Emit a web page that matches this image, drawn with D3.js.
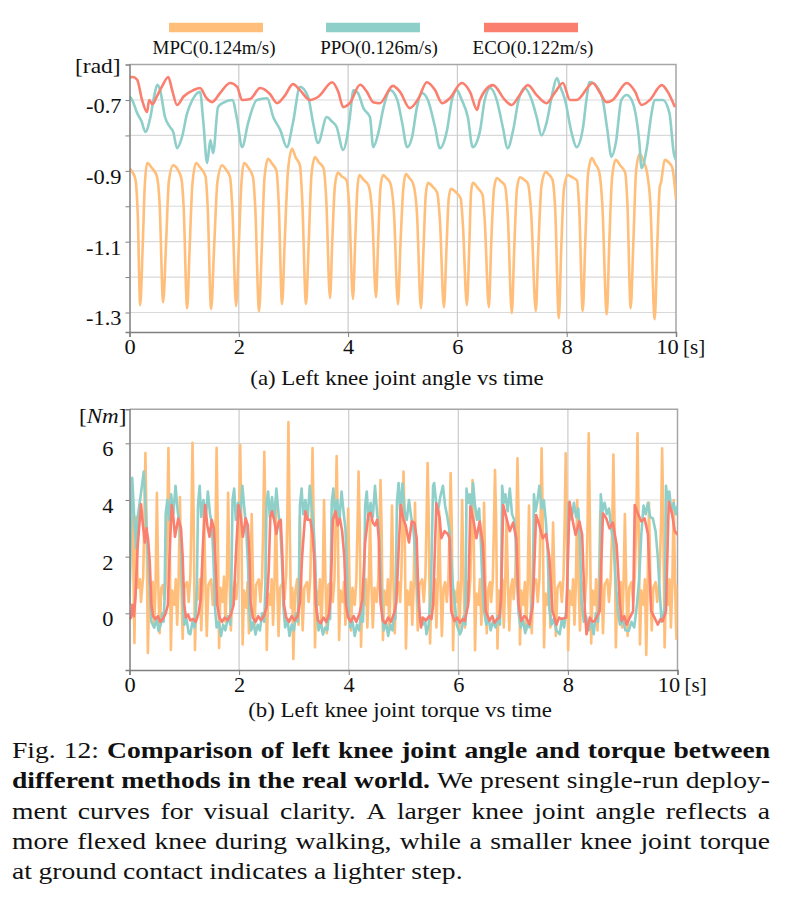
<!DOCTYPE html>
<html>
<head>
<meta charset="utf-8">
<script src="https://cdn.jsdelivr.net/npm/d3@7"></script>
<style>
  body { margin: 0; background: #fff; }
  svg text { font-family: "Liberation Serif", "Times New Roman", serif; fill: #111; }
</style>
</head>
<body>
<div id="fig"></div>
<script>
// ---- data ----
const seriesNames = ['MPC(0.124m/s)', 'PPO(0.126m/s)', 'ECO(0.122m/s)'];
const seriesColors = ['#FFBE7A', '#8ECFC9', '#FA7F6F'];

const timeTicks = [0, 2, 4, 6, 8, 10];
const angleTicks = [-1.3, -1.2, -1.1, -1.0, -0.9, -0.8, -0.7];
const angleLabels = [-1.3, -1.1, -0.9, -0.7];
const torqueTicks = [0, 2, 4, 6];

// left knee joint angle [rad]
const mpcAngle = [
  [0.00, -0.893], [0.06, -0.905], [0.11, -0.925], [0.15, -1.02], [0.196, -1.279], [0.24, -1.12], [0.28, -0.94],
  [0.324, -0.878], [0.41, -0.892], [0.50, -0.915], [0.55, -0.99], [0.616, -1.271], [0.67, -1.10], [0.72, -0.93],
  [0.799, -0.884], [0.87, -0.893], [0.95, -0.922], [0.99, -1.00], [1.055, -1.288], [1.10, -1.12], [1.15, -0.94],
  [1.219, -0.878], [1.29, -0.89], [1.39, -0.915], [1.43, -1.00], [1.494, -1.290], [1.55, -1.11], [1.61, -0.93],
  [1.695, -0.884], [1.76, -0.895], [1.84, -0.918], [1.88, -1.00], [1.951, -1.282], [2.00, -1.11], [2.05, -0.93],
  [2.097, -0.878], [2.17, -0.89], [2.26, -0.918], [2.30, -1.00], [2.371, -1.296], [2.42, -1.12], [2.47, -0.92],
  [2.536, -0.866], [2.61, -0.88], [2.69, -0.90], [2.73, -0.99], [2.792, -1.276], [2.84, -1.10], [2.90, -0.90],
  [2.974, -0.838], [3.04, -0.862], [3.12, -0.885], [3.16, -0.98], [3.230, -1.276], [3.28, -1.10], [3.33, -0.91],
  [3.395, -0.861], [3.46, -0.875], [3.55, -0.892], [3.60, -0.98], [3.669, -1.259], [3.71, -1.10], [3.76, -0.94],
  [3.815, -0.905], [3.88, -0.915], [3.97, -0.926], [4.02, -1.00], [4.089, -1.262], [4.13, -1.10], [4.17, -0.95],
  [4.205, -0.912], [4.28, -0.925], [4.37, -0.94], [4.44, -1.02], [4.510, -1.257], [4.55, -1.10], [4.59, -0.95],
  [4.638, -0.912], [4.70, -0.92], [4.77, -0.934], [4.84, -1.02], [4.912, -1.277], [4.96, -1.10], [5.01, -0.95],
  [5.058, -0.909], [5.12, -0.92], [5.19, -0.936], [5.26, -1.02], [5.333, -1.288], [5.38, -1.12], [5.42, -0.97],
  [5.461, -0.934], [5.55, -0.945], [5.63, -0.962], [5.68, -1.04], [5.753, -1.285], [5.80, -1.12], [5.84, -0.98],
  [5.881, -0.951], [5.99, -0.963], [6.06, -0.978], [6.10, -1.05], [6.173, -1.279], [6.22, -1.10], [6.25, -0.96],
  [6.283, -0.934], [6.38, -0.95], [6.46, -0.968], [6.50, -1.04], [6.576, -1.285], [6.62, -1.10], [6.67, -0.95],
  [6.722, -0.92], [6.80, -0.93], [6.87, -0.942], [6.92, -1.02], [6.996, -1.302], [7.04, -1.12], [7.09, -0.95],
  [7.143, -0.918], [7.22, -0.925], [7.29, -0.936], [7.35, -1.02], [7.435, -1.296], [7.48, -1.12], [7.54, -0.94],
  [7.618, -0.903], [7.67, -0.91], [7.74, -0.925], [7.79, -1.01], [7.856, -1.316], [7.90, -1.12], [7.95, -0.95],
  [8.020, -0.912], [8.10, -0.918], [8.19, -0.928], [8.23, -1.01], [8.294, -1.296], [8.34, -1.10], [8.39, -0.91],
  [8.459, -0.864], [8.52, -0.88], [8.59, -0.90], [8.65, -0.99], [8.733, -1.305], [8.78, -1.10], [8.83, -0.92],
  [8.897, -0.869], [8.98, -0.885], [9.07, -0.905], [9.11, -0.99], [9.171, -1.288], [9.22, -1.10], [9.27, -0.90],
  [9.336, -0.852], [9.40, -0.87], [9.47, -0.905], [9.53, -0.99], [9.610, -1.319], [9.66, -1.10], [9.70, -0.95],
  [9.73, -0.93], [9.793, -0.869], [9.86, -0.875], [9.93, -0.89], [10.0, -0.98],
];

const ppoAngle = [
  [0.00, -0.69], [0.05, -0.70], [0.14, -0.737], [0.22, -0.76], [0.29, -0.79], [0.38, -0.75], [0.45, -0.69],
  [0.51, -0.657], [0.56, -0.672], [0.65, -0.748], [0.74, -0.776], [0.80, -0.79], [0.87, -0.836], [0.96, -0.805],
  [1.05, -0.74], [1.15, -0.70], [1.29, -0.677], [1.35, -0.76], [1.42, -0.878], [1.48, -0.813], [1.53, -0.85],
  [1.62, -0.72], [1.71, -0.708], [1.88, -0.70], [1.97, -0.756], [2.06, -0.833], [2.17, -0.765], [2.33, -0.70],
  [2.52, -0.695], [2.63, -0.748], [2.76, -0.785], [2.88, -0.833], [2.99, -0.765], [3.12, -0.663], [3.27, -0.692],
  [3.36, -0.765], [3.45, -0.821], [3.61, -0.748], [3.70, -0.76], [3.79, -0.776], [3.91, -0.841], [3.98, -0.805],
  [4.03, -0.75], [4.10, -0.672], [4.18, -0.68], [4.28, -0.723], [4.40, -0.748], [4.46, -0.833], [4.55, -0.795],
  [4.65, -0.72], [4.77, -0.672], [4.90, -0.70], [4.99, -0.765], [5.08, -0.833], [5.17, -0.805], [5.26, -0.72],
  [5.35, -0.68], [5.46, -0.70], [5.59, -0.776], [5.68, -0.836], [5.81, -0.785], [5.90, -0.70], [5.99, -0.672],
  [6.08, -0.70], [6.19, -0.748], [6.28, -0.833], [6.41, -0.79], [6.50, -0.70], [6.60, -0.666], [6.72, -0.70],
  [6.83, -0.776], [6.92, -0.836], [7.02, -0.785], [7.12, -0.70], [7.23, -0.666], [7.36, -0.70], [7.45, -0.748],
  [7.54, -0.80], [7.63, -0.765], [7.74, -0.68], [7.82, -0.638], [7.88, -0.662], [7.97, -0.70], [8.09, -0.793],
  [8.18, -0.833], [8.30, -0.776], [8.36, -0.70], [8.42, -0.649], [8.55, -0.662], [8.66, -0.70], [8.74, -0.78],
  [8.82, -0.86], [8.90, -0.82], [9.00, -0.70], [9.10, -0.686], [9.21, -0.708], [9.33, -0.821], [9.37, -0.892],
  [9.46, -0.841], [9.55, -0.74], [9.61, -0.70], [9.76, -0.70], [9.88, -0.737], [9.96, -0.85], [10.0, -0.87],
];

const ecoAngle = [
  [0.00, -0.636], [0.06, -0.635], [0.14, -0.643], [0.23, -0.70], [0.32, -0.734], [0.36, -0.70], [0.42, -0.712],
  [0.50, -0.69], [0.60, -0.66], [0.71, -0.635], [0.78, -0.672], [0.87, -0.714], [0.99, -0.69], [1.17, -0.672],
  [1.29, -0.666], [1.41, -0.695], [1.51, -0.706], [1.66, -0.68], [1.84, -0.652], [1.97, -0.663], [2.06, -0.70],
  [2.21, -0.697], [2.39, -0.666], [2.57, -0.683], [2.70, -0.709], [2.85, -0.686], [2.99, -0.655], [3.12, -0.672],
  [3.30, -0.70], [3.46, -0.69], [3.71, -0.65], [3.82, -0.677], [3.91, -0.72], [4.03, -0.709], [4.22, -0.657],
  [4.34, -0.676], [4.46, -0.706], [4.58, -0.709], [4.82, -0.66], [4.95, -0.677], [5.13, -0.723], [5.29, -0.695],
  [5.44, -0.65], [5.59, -0.672], [5.72, -0.709], [5.86, -0.695], [6.08, -0.652], [6.23, -0.677], [6.36, -0.728],
  [6.41, -0.70], [6.65, -0.658], [6.87, -0.70], [6.99, -0.714], [7.14, -0.686], [7.29, -0.658], [7.45, -0.686],
  [7.63, -0.709], [7.78, -0.68], [7.93, -0.652], [8.06, -0.70], [8.18, -0.70], [8.48, -0.652], [8.60, -0.677],
  [8.73, -0.706], [8.84, -0.70], [9.10, -0.652], [9.25, -0.676], [9.37, -0.714], [9.52, -0.70], [9.74, -0.658],
  [9.85, -0.677], [9.98, -0.72],
];

// left knee joint torque [Nm]
const mpcTorque = [
  [0.00, 0.6], [0.03, 3.5], [0.06, 3.2], [0.09, -1.05], [0.12, 3.4], [0.15, 0.9], [0.19, 1.2], [0.21, 0.4], [0.25, 1.3], [0.27, 3.2],
  [0.29, 5.66], [0.31, 3.4], [0.335, -1.40], [0.36, 0.8], [0.40, 0.4], [0.425, 1.1], [0.45, -0.5], [0.475, 0.9], [0.50, 4.25], [0.525, 1.0], [0.55, -0.7], [0.58, 0.9], [0.61, 1.0], [0.64, 0.5], [0.67, 1.3], [0.69, 3.2],
  [0.71, 5.83], [0.73, 3.3], [0.755, -1.29], [0.78, 0.8], [0.82, 0.3], [0.845, 1.2], [0.87, -0.4], [0.895, 1.0], [0.92, 4.1], [0.945, 1.2], [0.97, -0.9], [1.00, 0.9], [1.05, 1.1], [1.08, 0.4], [1.11, 1.3], [1.13, 3.3],
  [1.15, 6.02], [1.17, 3.5], [1.195, -1.29], [1.22, 0.7], [1.26, 0.5], [1.285, 1.2], [1.31, -0.6], [1.335, 0.8], [1.36, 3.6], [1.385, 1.1], [1.41, -0.8], [1.44, 1.0], [1.49, 1.2], [1.52, 0.3], [1.55, 1.2], [1.57, 3.0],
  [1.59, 5.84], [1.61, 3.2], [1.635, -1.22], [1.66, 0.9], [1.70, 0.4], [1.725, 1.3], [1.75, -0.3], [1.775, 1.0], [1.80, 4.25], [1.825, 1.3], [1.85, -0.6], [1.88, 0.8], [1.92, 1.1], [1.95, 0.5], [1.98, 1.2], [2.00, 3.3],
  [2.02, 5.94], [2.04, 3.4], [2.065, -1.1], [2.09, 0.8], [2.13, 0.2], [2.155, 1.1], [2.18, -0.7], [2.205, 0.9], [2.23, 3.5], [2.255, 1.0], [2.28, -0.5], [2.31, 1.0], [2.36, 1.2], [2.39, 0.4], [2.42, 1.3], [2.44, 3.1],
  [2.46, 5.70], [2.48, 3.3], [2.505, -1.29], [2.53, 0.7], [2.57, 0.3], [2.595, 1.2], [2.62, -0.4], [2.645, 1.0], [2.67, 3.9], [2.695, 1.1], [2.72, -0.8], [2.75, 0.9], [2.80, 1.1], [2.83, 0.5], [2.86, 1.4], [2.88, 3.4],
  [2.90, 6.75], [2.92, 3.6], [2.945, 0.2], [2.97, 0.9], [2.99, -1.61], [3.02, 0.7], [3.06, 1.2], [3.085, -0.4], [3.11, 3.4], [3.135, 1.0], [3.16, -0.6], [3.19, 0.9], [3.24, 1.1], [3.27, 0.4], [3.30, 1.3], [3.32, 3.2],
  [3.34, 5.83], [3.36, 3.4], [3.385, -1.2], [3.41, 0.8], [3.45, 0.3], [3.475, 1.2], [3.50, -0.5], [3.525, 0.9], [3.55, 4.0], [3.575, 1.2], [3.60, -0.7], [3.63, 1.0], [3.68, 1.1], [3.71, 0.4], [3.74, 1.2], [3.76, 3.1],
  [3.78, 5.55], [3.80, 3.3], [3.825, -0.94], [3.85, 0.8], [3.89, 0.4], [3.915, 1.1], [3.94, -0.4], [3.965, 1.0], [3.99, 3.7], [4.015, 1.1], [4.04, -0.6], [4.07, 0.9], [4.11, 0.3], [4.14, 1.2], [4.16, 3.0],
  [4.18, 5.00], [4.20, 3.2], [4.225, -1.18], [4.25, 0.7], [4.29, 0.3], [4.315, 1.2], [4.34, -0.5], [4.365, 0.9], [4.39, 3.3], [4.415, 1.0], [4.44, -0.5], [4.47, 0.9], [4.51, 0.4], [4.54, 1.2], [4.56, 3.0],
  [4.58, 4.70], [4.60, 3.1], [4.625, -0.94], [4.65, 0.8], [4.69, 0.3], [4.715, 1.2], [4.74, -0.6], [4.765, 1.0], [4.79, 3.8], [4.815, 1.2], [4.84, -0.7], [4.87, 0.9], [4.91, 1.1], [4.94, 0.4], [4.96, 1.3], [4.98, 3.0],
  [5.00, 5.00], [5.02, 3.3], [5.045, -1.24], [5.07, 0.8], [5.11, 0.3], [5.135, 1.1], [5.16, -0.4], [5.185, 0.9], [5.21, 3.9], [5.235, 1.1], [5.26, -0.6], [5.29, 1.0], [5.34, 1.2], [5.37, 0.4], [5.40, 1.3], [5.42, 3.2],
  [5.44, 5.30], [5.46, 3.4], [5.485, -1.06], [5.51, 0.7], [5.55, 0.3], [5.575, 1.2], [5.60, -0.5], [5.625, 1.0], [5.65, 3.6], [5.675, 1.0], [5.70, -0.8], [5.73, 0.9], [5.76, 1.1], [5.79, 0.4], [5.82, 1.2], [5.84, 3.0],
  [5.86, 4.95], [5.88, 3.2], [5.905, -1.3], [5.93, 0.8], [5.97, 0.4], [5.995, 1.1], [6.02, -0.6], [6.045, 0.9], [6.07, 4.0], [6.095, 1.2], [6.12, -0.5], [6.15, 1.0], [6.17, 1.1], [6.19, 0.4], [6.22, 1.2], [6.24, 3.0],
  [6.26, 4.70], [6.28, 3.1], [6.305, -1.3], [6.33, 0.7], [6.37, 0.3], [6.395, 1.2], [6.42, -0.4], [6.445, 0.9], [6.47, 3.9], [6.495, 1.0], [6.52, -0.7], [6.55, 0.9], [6.58, 1.1], [6.60, 0.4], [6.63, 1.2], [6.65, 3.1],
  [6.67, 5.06], [6.69, 3.3], [6.715, -1.24], [6.74, 0.8], [6.78, 0.3], [6.805, 1.2], [6.83, -0.5], [6.855, 1.0], [6.88, 3.3], [6.905, 1.1], [6.93, -0.6], [6.96, 0.9], [6.99, 1.2], [7.01, 0.5], [7.04, 1.3], [7.06, 3.2],
  [7.08, 5.47], [7.10, 3.4], [7.125, -1.1], [7.15, 0.8], [7.19, 0.3], [7.215, 1.1], [7.24, -0.6], [7.265, 0.9], [7.29, 3.8], [7.315, 1.1], [7.34, -0.7], [7.37, 1.0], [7.42, 1.2], [7.45, 0.4], [7.48, 1.2], [7.50, 3.2],
  [7.52, 5.82], [7.54, 3.5], [7.565, -1.2], [7.59, 0.7], [7.63, 0.3], [7.655, 1.2], [7.68, -0.5], [7.705, 1.0], [7.73, 3.2], [7.755, 1.0], [7.78, -0.8], [7.81, 0.9], [7.86, 1.1], [7.89, 0.4], [7.92, 1.3], [7.94, 3.1],
  [7.96, 5.65], [7.98, 3.3], [8.005, -1.3], [8.03, 0.8], [8.07, 0.3], [8.095, 1.2], [8.12, -0.4], [8.145, 1.0], [8.17, 4.0], [8.195, 1.1], [8.22, -0.6], [8.25, 0.9], [8.28, 1.1], [8.31, 0.4], [8.34, 1.3], [8.36, 3.3],
  [8.38, 6.35], [8.40, 3.5], [8.425, -1.06], [8.45, 0.8], [8.49, 0.3], [8.515, 1.2], [8.54, -0.6], [8.565, 0.9], [8.59, 3.6], [8.615, 1.1], [8.64, -0.7], [8.67, 1.0], [8.72, 1.2], [8.75, 0.4], [8.78, 1.2], [8.81, 3.2],
  [8.83, 5.60], [8.85, 3.3], [8.875, -1.2], [8.90, 0.7], [8.94, 0.3], [8.965, 1.1], [8.99, -0.5], [9.015, 1.0], [9.04, 3.5], [9.065, 1.0], [9.09, -0.8], [9.12, 0.9], [9.16, 1.1], [9.19, 0.4], [9.22, 1.3], [9.25, 3.3],
  [9.27, 6.35], [9.29, 3.4], [9.315, -1.1], [9.34, 0.8], [9.38, 0.3], [9.405, 1.2], [9.43, -1.47], [9.455, 1.0], [9.48, 3.9], [9.505, 1.1], [9.53, -0.6], [9.56, 0.9], [9.60, 1.1], [9.63, 0.4], [9.67, 1.2], [9.70, 3.2],
  [9.72, 5.82], [9.74, 3.4], [9.765, -1.2], [9.79, 0.8], [9.83, 0.3], [9.855, 1.2], [9.88, -0.5], [9.905, 1.0], [9.93, 4.0], [9.955, 1.1], [9.98, -0.9], [10.0, 1.0],
];

const ppoTorque = [
  [0.00, 0.3], [0.02, 2.5], [0.05, 4.78], [0.08, 3.6], [0.12, 2.3], [0.15, 3.4], [0.20, 4.1], [0.26, 5.0], [0.29, 3.9], [0.33, 2.2], [0.37, 0.8], [0.40, -0.3], [0.45, -0.5], [0.50, -0.2], [0.53, -0.62], [0.57, -0.4], [0.60, 0.0], [0.62, -0.3],
  [0.64, 0.5], [0.66, 3.5], [0.69, 4.0], [0.72, 3.3], [0.76, 4.2], [0.80, 3.5], [0.84, 4.5], [0.88, 3.6], [0.91, 3.2], [0.94, 2.4], [0.97, 0.4], [1.00, -0.4], [1.04, -0.2], [1.08, -0.7], [1.11, -0.74], [1.15, -0.3], [1.19, -0.5], [1.21, 0.1],
  [1.23, 1.0], [1.25, 3.8], [1.28, 4.5], [1.31, 3.4], [1.35, 4.0], [1.39, 3.3], [1.43, 4.3], [1.47, 3.5], [1.50, 3.2], [1.53, 2.0], [1.56, 0.2], [1.59, -0.5], [1.63, -0.3], [1.67, -0.8], [1.71, -0.4], [1.75, -0.6], [1.80, -0.1], [1.84, -0.4],
  [1.86, 1.2], [1.88, 4.0], [1.91, 4.4], [1.94, 3.3], [1.98, 3.9], [2.02, 3.4], [2.06, 4.5], [2.10, 3.6], [2.13, 3.0], [2.16, 1.8], [2.19, 0.1], [2.22, -0.6], [2.26, -0.3], [2.30, -0.75], [2.34, -0.4], [2.38, -0.6], [2.42, 0.0], [2.46, -0.3],
  [2.48, 1.0], [2.50, 3.9], [2.53, 4.3], [2.56, 3.4], [2.60, 4.1], [2.64, 3.3], [2.68, 4.4], [2.72, 3.5], [2.75, 3.1], [2.78, 1.9], [2.81, 0.2], [2.84, -0.5], [2.88, -0.2], [2.92, -0.8], [2.96, -0.4], [3.00, -0.6], [3.04, 0.0], [3.07, -0.3],
  [3.09, 0.8], [3.11, 3.8], [3.14, 4.4], [3.17, 3.5], [3.21, 4.0], [3.25, 3.3], [3.29, 4.5], [3.33, 3.6], [3.36, 3.0], [3.39, 1.8], [3.42, 0.0], [3.45, -0.6], [3.49, -0.3], [3.53, -0.75], [3.57, -0.5], [3.61, -0.6], [3.64, 0.0], [3.66, -0.2],
  [3.67, 1.0], [3.69, 3.9], [3.72, 4.4], [3.75, 3.4], [3.79, 4.0], [3.83, 3.3], [3.87, 4.3], [3.91, 3.5], [3.94, 3.0], [3.97, 1.5], [4.00, 0.0], [4.03, -0.5], [4.07, -0.3], [4.11, -0.8], [4.15, -0.4], [4.19, -0.6], [4.23, 0.1], [4.26, -0.3],
  [4.28, 0.9], [4.30, 3.8], [4.33, 4.3], [4.36, 3.3], [4.40, 3.9], [4.44, 3.4], [4.48, 4.5], [4.52, 3.5], [4.55, 3.0], [4.58, 1.7], [4.61, 0.1], [4.64, -0.6], [4.68, -0.3], [4.72, -0.8], [4.76, -0.4], [4.80, -0.6], [4.83, 0.0], [4.85, -0.2],
  [4.86, 1.0], [4.88, 3.9], [4.91, 4.6], [4.94, 3.6], [4.98, 4.58], [5.02, 3.6], [5.06, 3.3], [5.10, 4.0], [5.14, 3.4], [5.18, 3.0], [5.22, 2.0], [5.26, 0.4], [5.28, 0.08], [5.31, -0.3], [5.35, -0.4], [5.39, -0.2], [5.42, -0.74], [5.46, -0.4], [5.50, 0.8],
  [5.54, 4.5], [5.56, 4.6], [5.60, 3.8], [5.63, 3.6], [5.67, 4.1], [5.72, 4.5], [5.76, 3.8], [5.80, 3.4], [5.84, 2.9], [5.90, 1.0], [5.94, 0.3], [5.97, -0.4], [6.03, -0.74], [6.06, -0.6], [6.10, -0.1], [6.13, -0.4],
  [6.15, 4.4], [6.18, 3.9], [6.21, 4.2], [6.24, 3.5], [6.27, 4.6], [6.30, 3.9], [6.34, 3.3], [6.38, 3.7], [6.41, 2.6], [6.44, 1.0], [6.47, 0.1], [6.51, -0.4], [6.55, -0.15], [6.59, -0.6], [6.63, -0.3], [6.68, -0.5], [6.72, -0.1], [6.76, -0.4],
  [6.78, 0.8], [6.80, 4.5], [6.83, 3.9], [6.86, 4.2], [6.90, 3.6], [6.94, 4.4], [6.98, 3.5], [7.02, 3.3], [7.05, 2.5], [7.08, 0.8], [7.10, 0.0], [7.14, -0.5], [7.18, -0.2], [7.22, -0.7], [7.26, -0.4], [7.30, -0.5], [7.33, 0.1],
  [7.36, 0.8], [7.38, 4.2], [7.41, 3.6], [7.44, 3.9], [7.48, 4.5], [7.52, 3.7], [7.56, 4.0], [7.60, 3.2], [7.63, 2.2], [7.66, 0.2], [7.70, -0.4], [7.74, -0.2], [7.79, -0.6], [7.85, -0.74], [7.89, -0.2], [7.93, -0.5], [7.97, 0.1],
  [7.99, 0.9], [8.01, 3.9], [8.04, 3.3], [8.08, 3.5], [8.11, 3.9], [8.15, 3.4], [8.19, 3.7], [8.22, 2.5], [8.25, 0.4], [8.29, -0.3], [8.33, -0.1], [8.38, -0.6], [8.43, -0.3], [8.47, -0.74], [8.51, 0.0], [8.55, -0.3],
  [8.58, 0.9], [8.60, 4.2], [8.63, 3.6], [8.67, 3.9], [8.71, 3.5], [8.75, 3.7], [8.79, 3.0], [8.83, 2.6], [8.87, 1.2], [8.91, 0.1], [8.95, -0.4], [9.00, -0.2], [9.05, -0.6], [9.11, -0.62], [9.16, -0.3], [9.21, -0.5], [9.26, 0.3],
  [9.30, 1.2], [9.34, 2.8], [9.38, 3.8], [9.42, 3.5], [9.46, 3.9], [9.50, 3.4], [9.55, 3.35], [9.60, 2.9], [9.64, 2.0], [9.68, 0.6], [9.71, -0.3], [9.74, -0.1], [9.77, 0.3],
  [9.79, 4.5], [9.82, 4.0], [9.85, 4.3], [9.89, 3.6], [9.93, 3.9], [9.97, 3.5], [10.0, 3.8],
];

const ecoTorque = [
  [0.00, -0.20], [0.03, -0.15], [0.05, 0.3], [0.08, -0.1], [0.11, 0.6], [0.15, 2.4], [0.21, 3.85], [0.24, 3.2], [0.28, 2.5], [0.31, 3.0], [0.34, 2.6], [0.37, 1.8], [0.40, 0.3], [0.43, -0.1], [0.47, -0.2], [0.52, -0.1], [0.56, -0.3], [0.61, -0.2], [0.66, 0.0], [0.70, 0.3], [0.73, 2.0],
  [0.77, 3.82], [0.80, 3.4], [0.83, 2.7], [0.89, 3.35], [0.94, 3.0], [0.97, 2.0], [1.00, 0.3], [1.03, -0.15], [1.07, -0.05], [1.11, -0.25], [1.16, -0.2], [1.21, -0.3], [1.26, 0.0], [1.30, 0.5], [1.34, 2.4],
  [1.38, 3.82], [1.42, 3.1], [1.46, 2.7], [1.50, 3.3], [1.54, 3.0], [1.57, 1.8], [1.60, 0.3], [1.64, -0.15], [1.69, -0.3], [1.74, -0.15], [1.79, -0.25], [1.85, -0.05], [1.90, 0.3], [1.94, 2.0],
  [1.99, 3.82], [2.03, 3.4], [2.07, 2.7], [2.12, 3.35], [2.16, 3.1], [2.19, 2.0], [2.21, 0.4], [2.25, -0.15], [2.30, -0.3], [2.35, -0.1], [2.40, -0.25], [2.45, -0.1], [2.50, 0.2], [2.54, 1.5], [2.57, 3.4],
  [2.60, 3.6], [2.64, 3.3], [2.68, 2.8], [2.72, 3.2], [2.76, 3.3], [2.79, 2.0], [2.82, 0.3], [2.86, -0.15], [2.91, -0.3], [2.96, -0.1], [3.01, -0.25], [3.07, -0.1], [3.11, 0.4], [3.15, 2.0],
  [3.21, 3.6], [3.25, 3.3], [3.30, 3.3], [3.34, 2.8], [3.37, 2.0], [3.40, 0.3], [3.44, -0.25], [3.49, -0.35], [3.54, -0.15], [3.59, -0.3], [3.64, -0.05], [3.67, 0.6], [3.71, 3.3],
  [3.76, 3.6], [3.80, 3.1], [3.84, 3.35], [3.88, 2.9], [3.92, 2.0], [3.95, 0.3], [3.99, -0.15], [4.04, -0.3], [4.09, -0.1], [4.14, -0.3], [4.20, 0.0], [4.25, 0.5], [4.30, 2.5], [4.36, 3.5],
  [4.40, 3.55], [4.44, 3.2], [4.48, 3.1], [4.52, 3.3], [4.55, 2.6], [4.58, 0.4], [4.62, -0.25], [4.67, -0.35], [4.72, -0.15], [4.77, -0.3], [4.83, 0.0], [4.87, 0.4], [4.91, 2.2],
  [4.95, 3.82], [5.00, 3.3], [5.04, 3.1], [5.10, 2.5], [5.15, 3.24], [5.20, 3.2], [5.24, 2.65], [5.27, 0.8], [5.30, -0.15], [5.32, -0.5], [5.35, -0.15], [5.41, -0.25], [5.47, -0.1], [5.51, -0.2], [5.54, 0.3],
  [5.60, 3.88], [5.66, 3.35], [5.69, 2.65], [5.75, 2.9], [5.81, 2.8], [5.84, 2.65], [5.87, 0.08], [5.93, -0.27], [5.98, -0.15], [6.03, -0.33], [6.08, -0.2], [6.12, -0.27], [6.18, 0.3],
  [6.22, 3.77], [6.28, 3.24], [6.33, 2.65], [6.39, 3.24], [6.45, 2.4], [6.50, 0.08], [6.57, -0.27], [6.62, -0.1], [6.66, -0.33], [6.71, -0.2], [6.75, -0.15], [6.78, 0.5],
  [6.82, 3.82], [6.88, 3.35], [6.94, 2.9], [7.00, 3.2], [7.06, 2.65], [7.10, 0.3], [7.15, -0.27], [7.20, -0.1], [7.24, -0.15], [7.30, -0.4], [7.36, 0.3],
  [7.42, 3.47], [7.48, 3.1], [7.54, 2.65], [7.60, 2.8], [7.66, 2.0], [7.72, 0.08], [7.79, -0.4], [7.84, -0.15], [7.88, -0.2], [7.97, -0.15],
  [8.03, 3.94], [8.09, 3.24], [8.14, 2.77], [8.21, 3.24], [8.26, 2.77], [8.31, 0.08], [8.34, -0.74], [8.40, -0.15], [8.45, -0.3], [8.49, -0.27], [8.58, 0.08],
  [8.64, 3.53], [8.70, 3.35], [8.76, 3.0], [8.82, 3.2], [8.89, 2.4], [8.95, 0.3], [8.98, -0.27], [9.03, -0.1], [9.07, -0.4], [9.13, -0.15], [9.19, 0.08],
  [9.22, 3.82], [9.28, 3.5], [9.34, 3.24], [9.40, 3.35], [9.46, 2.8], [9.52, 0.08], [9.58, -0.15], [9.64, -0.4], [9.69, -0.2], [9.73, -0.27], [9.79, 0.08],
  [9.84, 3.94], [9.90, 3.5], [9.95, 2.9], [10.0, 2.77],
];

const captionLines = [
  [['Fig. 12:', false], ['Comparison of left knee joint angle and torque between', true]],
  [['different methods in the real world.', true], ['We present single-run deploy-', false]],
  [['ment curves for visual clarity. A larger knee joint angle reflects a', false]],
  [['more flexed knee during walking, while a smaller knee joint torque', false]],
  [['at ground contact indicates a lighter step.', false]],
];

// ---- drawing ----
const width = 785;
const height = 899;
const gridColor = '#d9d9d9';
const frameColor = '#a6a6a6';
const axisColor = '#7f7f7f';
const stretch = 1.12; // the reference type is a little wider than plain Times

const svg = d3.select('#fig')
  .append('svg')
  .attr('width', width)
  .attr('height', height);

// text placed at (x, y) and widened horizontally
const wideText = (parent, x, y, size, sx) => parent.append('text')
  .attr('transform', `translate(${x},${y}) scale(${sx},1)`)
  .style('font-size', `${size}px`);

// legend
const legendX = [169, 326, 484];
const legendTextX = [214, 379, 533];
const legend = svg.append('g').attr('class', 'legend');
seriesNames.forEach((name, i) => {
  legend.append('line')
    .attr('x1', legendX[i]).attr('x2', legendX[i] + 94)
    .attr('y1', 27.5).attr('y2', 27.5)
    .attr('stroke', seriesColors[i])
    .attr('stroke-width', 9.5);
  legend.append('text')
    .attr('x', legendTextX[i]).attr('y', 54)
    .attr('text-anchor', 'middle')
    .style('font-size', '19px')
    .text(name);
});

const drawPanel = (opts) => {
  const { x, y, yTicks, yLabels, yPad, series, curve, unit, title, titleX, titleY } = opts;
  const [x0, x1] = x.range();
  const [yb, yt] = y.range();
  const g = svg.append('g');

  // grid
  g.append('g').selectAll('line')
    .data(yTicks)
    .enter()
    .append('line')
    .attr('x1', x0).attr('x2', x1)
    .attr('y1', (d) => y(d)).attr('y2', (d) => y(d))
    .attr('stroke', gridColor).attr('stroke-width', 1.2);
  g.append('g').selectAll('line')
    .data(timeTicks.slice(1, -1))
    .enter()
    .append('line')
    .attr('x1', (d) => x(d)).attr('x2', (d) => x(d))
    .attr('y1', yt).attr('y2', yb)
    .attr('stroke', '#cbcbcb').attr('stroke-width', 1.2);

  // frame (top/right)
  g.append('path')
    .attr('d', `M${x0},${yt}H${x1}V${yb}`)
    .attr('fill', 'none')
    .attr('stroke', frameColor)
    .attr('stroke-width', 1.5);

  // lines
  const clipId = `clip-${Math.round(yt)}`;
  svg.append('clipPath').attr('id', clipId)
    .append('rect')
    .attr('x', x0).attr('y', yt - 2)
    .attr('width', x1 - x0).attr('height', yb - yt + 4);
  const lineGen = d3.line()
    .x((d) => x(d[0]))
    .y((d) => y(d[1]))
    .curve(curve);
  const lg = g.append('g').attr('clip-path', `url(#${clipId})`);
  series.forEach((s, i) => {
    lg.append('path')
      .datum(s)
      .attr('fill', 'none')
      .attr('stroke', seriesColors[i])
      .attr('stroke-width', 2.6)
      .attr('stroke-linejoin', 'round')
      .attr('d', lineGen);
  });

  // axes
  const yAxis = d3.axisLeft(y)
    .tickValues(yTicks)
    .tickSize(4)
    .tickPadding(yPad)
    .tickFormat((d) => (yLabels.includes(d) ? (Number.isInteger(d) ? `${d}` : d.toFixed(1)) : ''));
  const ya = g.append('g')
    .attr('transform', `translate(${x0},0)`)
    .call(yAxis);
  ya.select('.domain').attr('stroke', axisColor).attr('stroke-width', 1.5);
  ya.selectAll('.tick line').attr('stroke', axisColor);
  ya.selectAll('.tick text')
    .attr('x', -(4 + yPad) / stretch)
    .attr('dy', '0.62em')
    .attr('transform', `scale(${stretch},1)`)
    .style('font-size', '20px')
    .style('font-family', '"Liberation Serif", serif')
    .attr('fill', '#111');

  const xAxis = d3.axisBottom(x)
    .tickValues(timeTicks)
    .tickSize(5)
    .tickPadding(3)
    .tickFormat((d) => `${d}`);
  const xa = g.append('g')
    .attr('transform', `translate(0,${yb})`)
    .call(xAxis);
  xa.select('.domain').attr('stroke', axisColor).attr('stroke-width', 1.5);
  xa.selectAll('.tick line').attr('stroke', axisColor);
  xa.selectAll('.tick text')
    .attr('transform', `scale(${stretch},1)`)
    .style('font-size', '20px')
    .style('font-family', '"Liberation Serif", serif')
    .attr('fill', '#111');
  // last label sits left of its tick so the unit fits beside it
  xa.selectAll('.tick text')
    .filter((d) => d === 10)
    .attr('text-anchor', 'end')
    .attr('x', 2);

  wideText(g, x1 + 7, yb + 22, 20, 1.05).text('[s]');

  unit(g);

  wideText(g, titleX, titleY, 21, 1.09)
    .attr('text-anchor', 'middle')
    .text(title);
};

const xAngle = d3.scaleLinear().domain([0, 10]).range([129.5, 676]);
const yAngle = d3.scaleLinear().domain([-1.355, -0.6]).range([332, 64.6]);
drawPanel({
  x: xAngle,
  y: yAngle,
  yTicks: angleTicks,
  yLabels: angleLabels,
  yPad: 4,
  series: [mpcAngle, ppoAngle, ecoAngle],
  curve: d3.curveMonotoneX,
  unit: (g) => wideText(g, 75, 73, 21, 1.12).text('[rad]'),
  title: '(a) Left knee joint angle vs time',
  titleX: 397,
  titleY: 385,
});

const xTorque = d3.scaleLinear().domain([0, 10]).range([129.5, 677.5]);
const yTorque = d3.scaleLinear().domain([-2, 7.2]).range([670, 409.3]);
drawPanel({
  x: xTorque,
  y: yTorque,
  yTicks: torqueTicks,
  yLabels: torqueTicks,
  yPad: 12,
  series: [mpcTorque, ppoTorque, ecoTorque],
  curve: d3.curveLinear,
  unit: (g) => {
    const t = wideText(g, 79, 423, 21, 1.1);
    t.append('tspan').text('[');
    t.append('tspan').style('font-style', 'italic').text('Nm');
    t.append('tspan').text(']');
  },
  title: '(b) Left knee joint torque vs time',
  titleX: 400,
  titleY: 717,
});

// caption, justified word by word
const capLeft = 12;
const capWidth = 758;
const capTop = 758;
const capLH = 30.3;
const capStretch = 1.15;
const cap = svg.append('g');
captionLines.forEach((segs, i) => {
  const words = [];
  segs.forEach(([txt, bold]) => txt.split(' ').filter((w) => w).forEach((w) => words.push({ w, bold })));
  const texts = words.map((d) => wideText(cap, 0, 0, 24, capStretch)
    .style('font-weight', d.bold ? 'bold' : 'normal')
    .text(d.w));
  const widths = texts.map((t) => t.node().getComputedTextLength() * capStretch);
  const last = i === captionLines.length - 1;
  const gap = last ? 6.5 : (capWidth - d3.sum(widths)) / (words.length - 1);
  let xPos = capLeft;
  texts.forEach((t, j) => {
    t.attr('transform', `translate(${xPos},${capTop + i * capLH}) scale(${capStretch},1)`);
    xPos += widths[j] + gap;
  });
});
</script>
</body>
</html>
